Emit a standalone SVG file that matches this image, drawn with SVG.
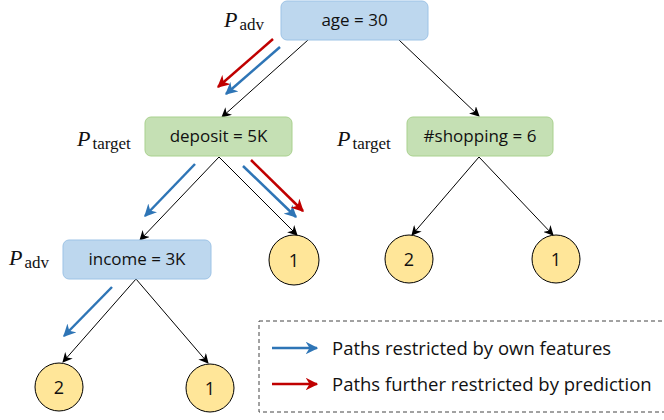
<svg xmlns="http://www.w3.org/2000/svg" width="664" height="420" viewBox="0 0 664 420">
<defs>
<style>
.bn{fill:#BDD7EE;stroke:#9DC3E6;stroke-width:1}
.gn{fill:#C5E0B4;stroke:#A9D18E;stroke-width:1}
.lf{fill:#FFE699;stroke:#000;stroke-width:1}
.t{font-family:"Open Sans","Liberation Sans",sans-serif;font-size:17px;fill:#111;text-anchor:middle}
.d{font-family:"Open Sans","Liberation Sans",sans-serif;font-size:18px;fill:#111;text-anchor:middle}
.lg{font-family:"Open Sans","Liberation Sans",sans-serif;font-size:18.5px;fill:#111}
.p{font-family:"Liberation Serif","DejaVu Serif",serif;font-size:22px;font-style:italic;fill:#111}
.s{font-family:"Liberation Serif","DejaVu Serif",serif;font-size:17px;font-style:normal;fill:#111}
.e{stroke:#000;stroke-width:1;fill:none;marker-end:url(#ak)}
.b{stroke:#2E75B6;stroke-width:2.5;fill:none;marker-end:url(#ab)}
.r{stroke:#C00000;stroke-width:2.5;fill:none;marker-end:url(#ar)}
</style>
<marker id="ak" viewBox="0 0 10 10" refX="9" refY="5" markerWidth="10" markerHeight="10" markerUnits="userSpaceOnUse" orient="auto"><path d="M0,0 L10,5 L0,10 L3,5 z" fill="#000"/></marker>
<marker id="ab" viewBox="0 0 10 10" refX="9" refY="5" markerWidth="5" markerHeight="5" orient="auto"><path d="M0,0 L10,5 L0,10 L3,5 z" fill="#2E75B6"/></marker>
<marker id="ar" viewBox="0 0 10 10" refX="9" refY="5" markerWidth="5" markerHeight="5" orient="auto"><path d="M0,0 L10,5 L0,10 L3,5 z" fill="#C00000"/></marker>
</defs>
<rect width="664" height="420" fill="#fff"/>
<g id="connectors">
<line class="e" x1="308" y1="40" x2="222" y2="117"/>
<line class="e" x1="399" y1="40" x2="479" y2="116"/>
<line class="e" x1="219" y1="157" x2="140" y2="240"/>
<line class="e" x1="219" y1="157" x2="297" y2="235"/>
<line class="e" x1="136" y1="279" x2="63" y2="362"/>
<line class="e" x1="136" y1="279" x2="208" y2="363"/>
<line class="e" x1="479" y1="157" x2="412" y2="235"/>
<line class="e" x1="479" y1="157" x2="553" y2="235"/>
<line class="r" x1="273" y1="39" x2="218" y2="87"/>
<line class="b" x1="280" y1="47" x2="226" y2="94"/>
<line class="b" x1="195" y1="164" x2="145" y2="216"/>
<line class="b" x1="243" y1="166" x2="296" y2="217"/>
<line class="r" x1="251" y1="160" x2="303" y2="211"/>
<line class="b" x1="112" y1="287" x2="64" y2="336"/>
</g>
<g id="n-age"><rect class="bn" x="281" y="1" width="147" height="39" rx="6"/><text class="t" x="354.5" y="26">age = 30</text>
<text class="p" x="224" y="27">P<tspan class="s" dx="2" dy="3">adv</tspan></text></g>
<g id="n-deposit"><rect class="gn" x="145" y="117" width="147" height="39" rx="6"/><text class="t" x="218.5" y="142">deposit = 5K</text>
<text class="p" x="77" y="146">P<tspan class="s" dx="2" dy="3">target</tspan></text></g>
<g id="n-shopping"><rect class="gn" x="407" y="117" width="146" height="39" rx="6"/><text class="t" x="480" y="142">#shopping = 6</text>
<text class="p" x="337" y="146">P<tspan class="s" dx="2" dy="3">target</tspan></text></g>
<g id="n-income"><rect class="bn" x="63" y="240" width="148" height="39" rx="6"/><text class="t" x="137" y="265">income = 3K</text>
<text class="p" x="9" y="265">P<tspan class="s" dx="2" dy="3">adv</tspan></text></g>
<g id="l-mid1"><circle class="lf" cx="294" cy="260" r="25"/><text class="d" x="294" y="266.5">1</text></g>
<g id="l-inc2"><circle class="lf" cx="59" cy="387" r="24"/><text class="d" x="59" y="393.5">2</text></g>
<g id="l-inc1"><circle class="lf" cx="210" cy="388" r="24"/><text class="d" x="210" y="394.5">1</text></g>
<g id="l-sh2"><circle class="lf" cx="409" cy="259" r="24"/><text class="d" x="409" y="265.5">2</text></g>
<g id="l-sh1"><circle class="lf" cx="556" cy="259" r="24"/><text class="d" x="556" y="265.5">1</text></g>
<g id="legend">
<rect x="259" y="321" width="410" height="91" fill="none" stroke="#444" stroke-width="1" stroke-dasharray="4,3"/>
<line class="b" x1="272" y1="348" x2="317" y2="348"/>
<text class="lg" x="332" y="355">Paths restricted by own features</text>
<line class="r" x1="272" y1="384" x2="317" y2="384"/>
<text class="lg" x="332" y="391">Paths further restricted by prediction</text>
</g>
</svg>
